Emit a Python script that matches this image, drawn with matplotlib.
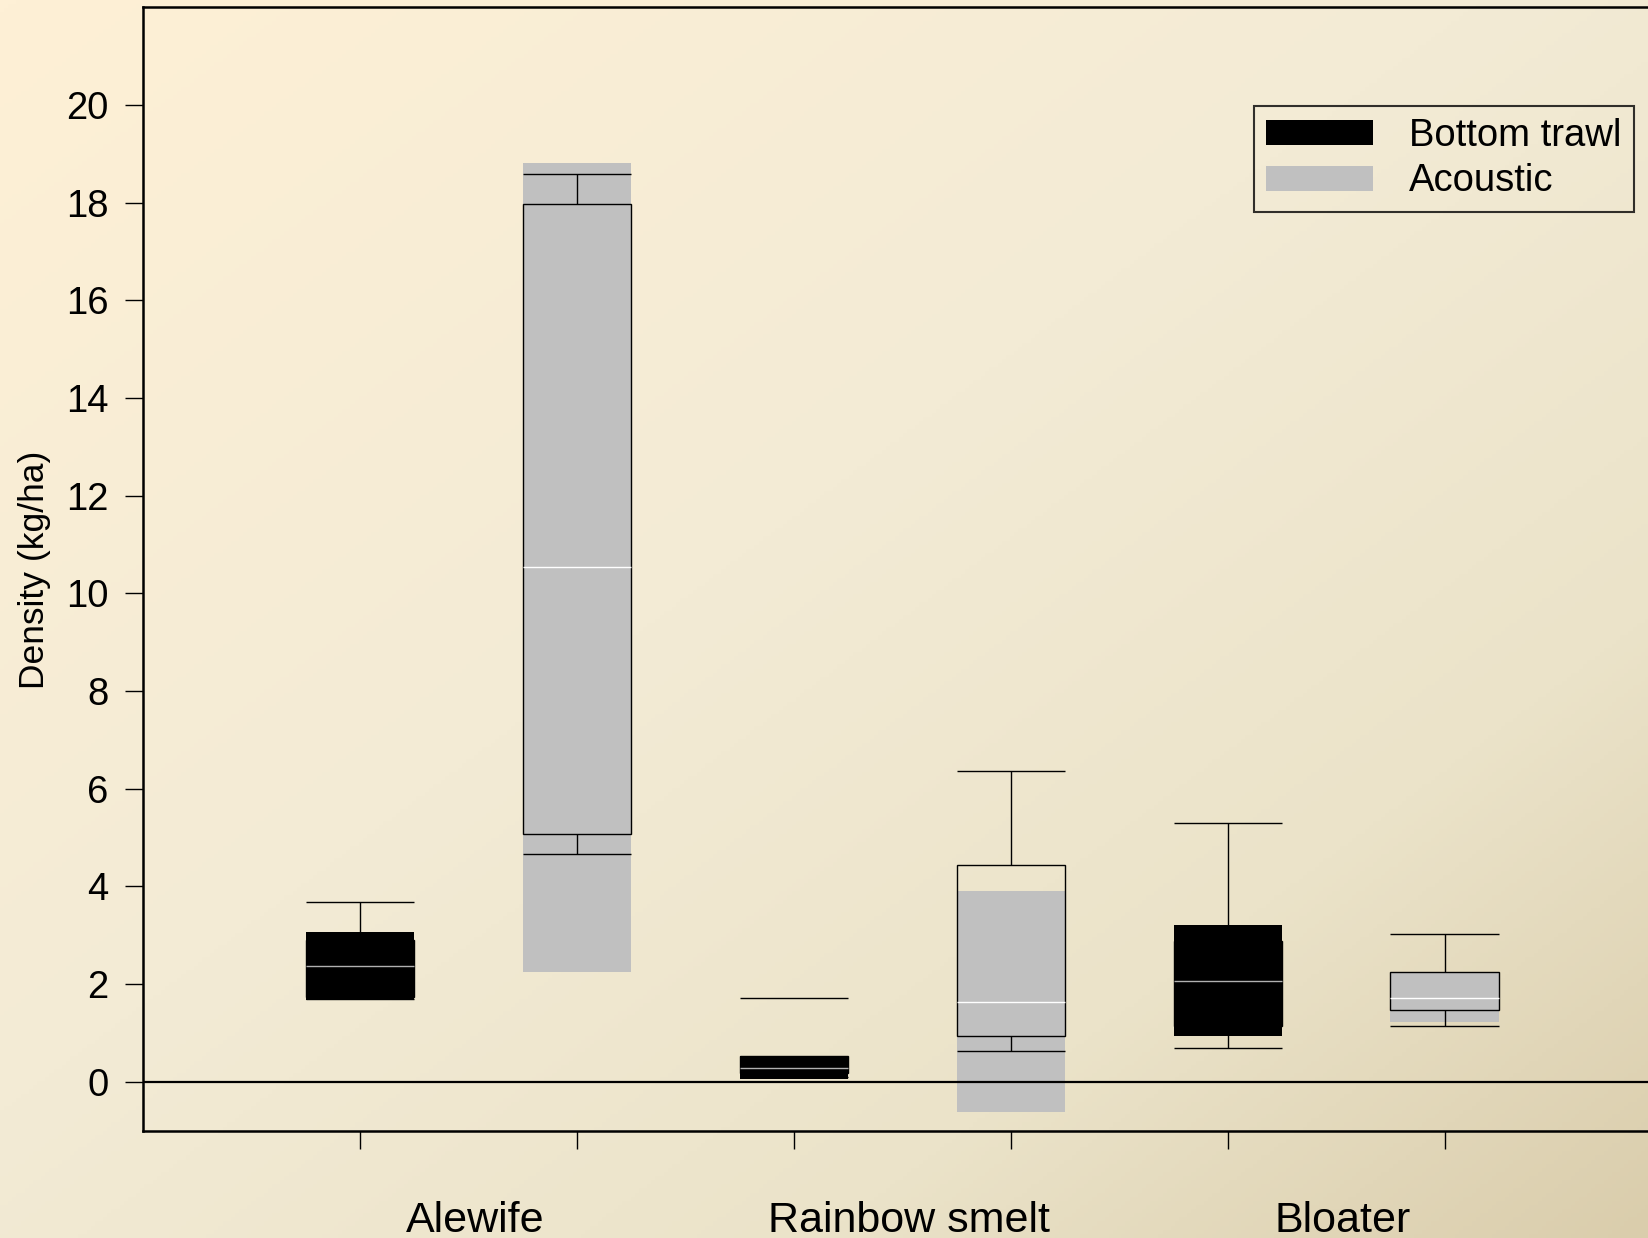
import numpy as np
import matplotlib
matplotlib.use("Agg")
import matplotlib.pyplot as plt
from matplotlib.patches import Patch
from matplotlib.colors import LinearSegmentedColormap
import matplotlib.transforms as mtransforms

plt.rcParams['font.family'] = ['Liberation Sans', 'DejaVu Sans']

# ---- data ----
species = ["Alewife", "Rainbow smelt", "Bloater"]
methods = ["Bottom trawl", "Acoustic"]
positions = [1, 2, 3, 4, 5, 6]
method_of_box = ["Bottom trawl", "Acoustic", "Bottom trawl", "Acoustic", "Bottom trawl", "Acoustic"]
# filled interval (shaded rectangle)
rect_low = [1.67, 2.24, 0.06, -0.62, 0.94, 1.22]
rect_high = [3.06, 18.81, 0.52, 3.90, 3.20, 2.22]
# quartile box
q1 = [1.73, 5.08, 0.18, 0.94, 1.14, 1.46]
q3 = [2.90, 17.97, 0.52, 4.44, 2.89, 2.24]
median = [2.37, 10.53, 0.28, 1.63, 2.07, 1.72]
whisk_low = [1.70, 4.67, 0.10, 0.63, 0.70, 1.15]
whisk_high = [3.68, 18.58, 1.71, 6.37, 5.29, 3.02]
upper_stem = [True, True, False, True, True, True]
yticks = [0, 2, 4, 6, 8, 10, 12, 14, 16, 18, 20]

colors = {"Bottom trawl": "#000000", "Acoustic": "#c0c0c0"}
median_colors = {"Bottom trawl": "#b0b0b0", "Acoustic": "#ffffff"}

W, H = 1649, 1238
fig = plt.figure(figsize=(W / 100, H / 100), dpi=100)

# background gradient
bg = fig.add_axes([0, 0, 1, 1], zorder=-10)
bg.set_axis_off()
u = np.linspace(0, 1, 400)[None, :]
v = np.linspace(0, 1, 300)[:, None]
t = (u + v) / 2
cmap = LinearSegmentedColormap.from_list(
    "bgg", [(0.0, "#fef0d6"), (0.45, "#f3ebd5"), (0.75, "#ebe3c9"), (1.0, "#dacdac")])
bg.imshow(t, cmap=cmap, aspect="auto", extent=[0, 1, 0, 1], origin="upper", vmin=0, vmax=1)
bg.set_xlim(0, 1)
bg.set_ylim(0, 1)

ax = fig.add_axes([143.3 / W, 1 - 1130.6 / H, 7 * 216.9 / W, (1130.6 - 7.3) / H])
ax.set_facecolor("none")
ax.set_xlim(0, 7)
ax.set_ylim(-1, 22)

bw = 0.5
fills = [colors[m] for m in method_of_box]
ax.bar(positions, np.array(rect_high) - np.array(rect_low), bottom=rect_low, width=bw,
       color=fills, edgecolor="none", zorder=2)
ax.bar(positions, np.array(q3) - np.array(q1), bottom=q1, width=bw,
       fill=False, edgecolor="black", linewidth=1.0, zorder=3)
for i, p in enumerate(positions):
    ax.hlines([whisk_low[i], whisk_high[i]], p - bw / 2, p + bw / 2, color="black", lw=1.0, zorder=3)
    ax.vlines(p, whisk_low[i], q1[i], color="black", lw=1.0, zorder=3)
    if upper_stem[i]:
        ax.vlines(p, q3[i], whisk_high[i], color="black", lw=1.0, zorder=3)
    ax.hlines(median[i], p - bw / 2, p + bw / 2, color=median_colors[method_of_box[i]],
              lw=1.0, zorder=4)

ax.axhline(0, color="black", lw=1.6, zorder=5)

# axes styling
for s in ["left", "top", "bottom"]:
    ax.spines[s].set_linewidth(1.8)
ax.spines["right"].set_visible(False)
ax.set_xticks(positions)
ax.set_xticklabels([""] * len(positions))
ax.set_yticks(yticks)
ax.set_yticklabels([str(y) for y in yticks])
ax.tick_params(axis="both", direction="out", length=13, width=1.0, labelsize=27.5, pad=12)

ax.set_ylabel("Density (kg/ha)", fontsize=25.5)
ax.yaxis.set_label_coords((51.0 - 143.3) / (7 * 216.9), (1130.6 - 570) / (1130.6 - 7.3))

trans = mtransforms.blended_transform_factory(ax.transData, ax.transAxes)
base_y = (1130.6 - 1231.7) / (1130.6 - 7.3)
for k, name in enumerate(species):
    xc = (positions[2 * k] + positions[2 * k + 1]) / 2 + 0.03
    ax.text(xc, base_y, name, transform=trans, ha="center", va="baseline", fontsize=31, clip_on=False)

handles = [Patch(facecolor=colors[m], edgecolor="none", label=m) for m in methods]
leg = ax.legend(handles=handles, loc="upper right",
                bbox_to_anchor=((1634 - 143.3) / (7 * 216.9), (1130.6 - 105.7) / (1130.6 - 7.3)),
                fontsize=27.5, frameon=True, fancybox=False, borderaxespad=0,
                handlelength=2.8, handleheight=0.63, handletextpad=0.95,
                labelspacing=0.25, borderpad=0.32)
leg.get_frame().set_edgecolor("black")
leg.get_frame().set_linewidth(1.5)
leg.get_frame().set_facecolor("none")

fig.savefig("out.png", dpi=100)
